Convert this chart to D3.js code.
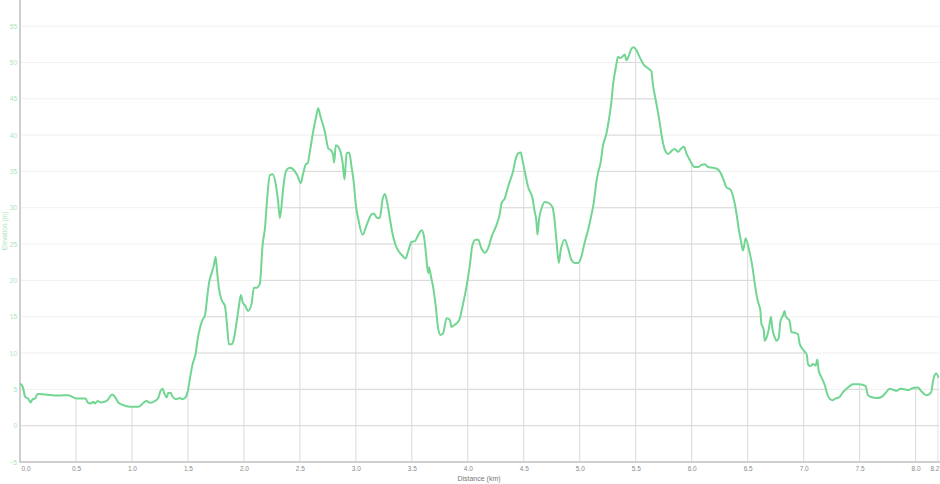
<!DOCTYPE html>
<html>
<head>
<meta charset="utf-8">
<script src="https://cdn.jsdelivr.net/npm/d3@7"></script>
<style>
  html, body { margin: 0; padding: 0; background: #fff; }
  svg { display: block; }
  text { font-family: "Liberation Sans", Arial, sans-serif; }
</style>
</head>
<body>
<svg id="chart" width="940" height="484"></svg>
<script>
// Distance (km) of each profile sample
const distance = [
  0.000, 0.009, 0.029, 0.045, 0.074, 0.096, 0.110, 0.134, 0.158, 0.223, 0.342, 0.431, 0.506, 0.587, 0.604, 0.634,
  0.654, 0.670, 0.694, 0.723, 0.774, 0.824, 0.848, 0.878, 0.938, 0.982, 1.056, 1.131, 1.161, 1.205, 1.235, 1.256,
  1.274, 1.288, 1.310, 1.324, 1.346, 1.360, 1.393, 1.429, 1.449, 1.473, 1.497, 1.518, 1.542, 1.569, 1.587, 1.607,
  1.628, 1.652, 1.676, 1.690, 1.712, 1.732, 1.747, 1.762, 1.777, 1.801, 1.830, 1.848, 1.866, 1.890, 1.911, 1.935,
  1.955, 1.973, 1.991, 2.009, 2.038, 2.069, 2.089, 2.113, 2.143, 2.167, 2.188, 2.208, 2.232, 2.256, 2.286, 2.306,
  2.321, 2.337, 2.351, 2.381, 2.411, 2.446, 2.476, 2.509, 2.529, 2.554, 2.569, 2.589, 2.619, 2.649, 2.663, 2.685,
  2.723, 2.753, 2.777, 2.797, 2.806, 2.821, 2.842, 2.863, 2.881, 2.899, 2.917, 2.940, 2.962, 2.982, 3.000, 3.021,
  3.060, 3.096, 3.140, 3.161, 3.190, 3.214, 3.238, 3.259, 3.279, 3.304, 3.324, 3.354, 3.387, 3.417, 3.444, 3.467,
  3.497, 3.527, 3.556, 3.587, 3.607, 3.625, 3.646, 3.654, 3.670, 3.690, 3.714, 3.735, 3.756, 3.779, 3.810, 3.839,
  3.854, 3.884, 3.922, 3.958, 3.988, 4.018, 4.042, 4.071, 4.092, 4.122, 4.152, 4.181, 4.212, 4.256, 4.286, 4.301,
  4.330, 4.351, 4.360, 4.375, 4.404, 4.429, 4.449, 4.473, 4.488, 4.509, 4.538, 4.578, 4.598, 4.613, 4.622, 4.637,
  4.658, 4.688, 4.717, 4.756, 4.771, 4.792, 4.813, 4.830, 4.866, 4.896, 4.926, 4.955, 4.985, 5.015, 5.045, 5.074,
  5.104, 5.125, 5.149, 5.163, 5.185, 5.208, 5.238, 5.262, 5.283, 5.297, 5.321, 5.342, 5.357, 5.381, 5.402, 5.417,
  5.440, 5.462, 5.482, 5.506, 5.536, 5.571, 5.610, 5.640, 5.654, 5.679, 5.708, 5.729, 5.744, 5.768, 5.788, 5.819,
  5.848, 5.878, 5.908, 5.931, 5.953, 5.982, 6.027, 6.056, 6.087, 6.116, 6.146, 6.190, 6.220, 6.250, 6.286, 6.310,
  6.346, 6.384, 6.404, 6.422, 6.438, 6.458, 6.482, 6.512, 6.542, 6.563, 6.583, 6.601, 6.613, 6.622, 6.643, 6.652,
  6.672, 6.690, 6.708, 6.720, 6.741, 6.756, 6.777, 6.792, 6.815, 6.830, 6.839, 6.875, 6.890, 6.920, 6.949, 6.964,
  6.979, 7.009, 7.029, 7.038, 7.060, 7.083, 7.107, 7.122, 7.134, 7.158, 7.188, 7.217, 7.256, 7.286, 7.321, 7.346,
  7.396, 7.440, 7.500, 7.554, 7.574, 7.604, 7.649, 7.694, 7.732, 7.768, 7.804, 7.833, 7.863, 7.902, 7.940, 7.962,
  8.006, 8.020, 8.051, 8.096, 8.119, 8.140, 8.154, 8.170, 8.185, 8.205
];
// Elevation (m) at each sample
const elevation = [
  5.8, 5.7, 5.1, 4.0, 3.7, 3.2, 3.6, 3.75, 4.35, 4.3, 4.15, 4.2, 3.75, 3.75, 3.2, 3.05,
  3.3, 3.05, 3.4, 3.2, 3.4, 4.3, 3.95, 3.2, 2.75, 2.6, 2.6, 3.4, 3.15, 3.4, 3.8, 4.8,
  5.1, 4.5, 3.9, 4.5, 4.55, 4.05, 3.65, 3.8, 3.65, 3.8, 4.65, 6.5, 8.5, 9.9, 11.9, 13.4,
  14.5, 15.2, 18.2, 19.8, 21.0, 22.1, 23.25, 21.0, 18.9, 17.3, 16.5, 14.1, 11.2, 11.2, 12.0, 14.3,
  16.4, 18.0, 16.9, 16.6, 15.8, 16.8, 19.0, 19.0, 19.6, 24.9, 27.2, 31.3, 34.5, 34.6, 33.1, 30.8,
  28.6, 30.4, 32.7, 35.2, 35.5, 35.2, 34.5, 33.4, 34.7, 36.0, 36.1, 37.7, 40.5, 42.8, 43.7, 42.5,
  40.5, 38.2, 37.9, 37.3, 36.2, 38.6, 38.4, 37.7, 36.3, 33.9, 37.5, 37.6, 35.6, 33.4, 30.4, 28.5,
  26.3, 27.6, 29.1, 29.2, 28.6, 28.6, 31.1, 31.9, 30.8, 28.5, 26.7, 24.9, 23.9, 23.4, 23.0, 24.0,
  25.3, 25.4, 26.2, 26.9, 26.2, 23.9, 21.0, 21.8, 20.6, 19.1, 16.4, 13.4, 12.5, 12.7, 14.8, 14.6,
  13.6, 13.9, 14.5, 16.8, 19.1, 22.1, 24.9, 25.6, 25.6, 24.4, 23.8, 24.4, 26.0, 27.6, 29.2, 30.6,
  31.3, 32.4, 32.9, 33.6, 35.0, 36.8, 37.5, 37.6, 36.6, 35.0, 32.9, 31.3, 29.4, 28.1, 26.3, 28.5,
  29.9, 30.8, 30.7, 30.1, 28.8, 25.5, 22.4, 24.2, 25.6, 24.4, 22.8, 22.4, 22.4, 23.3, 25.3, 26.9,
  29.0, 30.7, 33.6, 34.8, 36.1, 38.6, 40.2, 42.3, 44.6, 46.9, 49.2, 50.8, 50.6, 50.8, 51.1, 50.3,
  51.0, 51.9, 52.1, 51.7, 50.7, 49.7, 49.2, 48.8, 46.9, 44.8, 42.3, 40.2, 38.9, 37.7, 37.4, 37.8,
  38.1, 37.7, 38.2, 38.4, 37.5, 36.6, 35.6, 35.6, 35.9, 36.0, 35.6, 35.5, 35.4, 35.0, 33.8, 32.8,
  32.5, 30.6, 28.8, 26.9, 25.6, 24.1, 25.8, 24.2, 21.9, 19.6, 17.7, 16.6, 15.9, 14.1, 13.2, 11.7,
  12.3, 13.4, 15.0, 13.4, 12.2, 11.7, 12.1, 14.3, 15.2, 15.8, 15.1, 14.4, 12.9, 12.8, 12.6, 11.3,
  10.8, 10.2, 9.7, 8.5, 8.2, 8.5, 8.3, 9.1, 7.6, 6.7, 5.6, 4.1, 3.5, 3.75, 3.95, 4.5,
  5.25, 5.7, 5.7, 5.45, 4.2, 3.95, 3.8, 3.95, 4.5, 5.1, 4.9, 4.8, 5.1, 5.0, 4.9, 5.1,
  5.25, 5.25, 4.75, 4.2, 4.3, 4.65, 6.0, 6.95, 7.2, 6.6
];
const xTickValues = [0, 0.5, 1, 1.5, 2, 2.5, 3, 3.5, 4, 4.5, 5, 5.5, 6, 6.5, 7, 7.5, 8, 8.2];
const yTickValues = [-5, 0, 5, 10, 15, 20, 25, 30, 35, 40, 45, 50, 55];
const xTitle = "Distance (km)";
const yTitle = "Elevation (m)";

(function () {
const data = distance.map((d, i) => ({ d, e: elevation[i] }));

const svg = d3.select("#chart");
const padL = 20, padR = 938, padT = 0, padB = 462;

const x = d3.scaleLinear().domain([0, 8.2]).range([padL, padR]);
const y = d3.scaleLinear().domain([-5, 58.6]).range([padB, padT]);

// faint horizontal grid everywhere
svg.append("g")
  .selectAll("line").data(yTickValues.filter(v => v > -5)).join("line")
  .attr("x1", padL).attr("x2", 940)
  .attr("y1", v => y(v)).attr("y2", v => y(v))
  .attr("stroke", "#f1f1f1").attr("stroke-width", 1);

// clip = region under the profile
const areaGen = d3.area().x(p => x(p.d)).y0(padB).y1(p => y(p.e));
svg.append("defs").append("clipPath").attr("id", "under")
  .append("path").attr("d", areaGen(data));

const under = svg.append("g").attr("clip-path", "url(#under)");
under.selectAll("line.h").data(yTickValues.filter(v => v > -5)).join("line")
  .attr("class", "h")
  .attr("x1", padL).attr("x2", 940)
  .attr("y1", v => y(v)).attr("y2", v => y(v))
  .attr("stroke", "#d9d9d9").attr("stroke-width", 1);
under.selectAll("line.v").data(xTickValues.filter(v => v > 0)).join("line")
  .attr("class", "v")
  .attr("x1", v => x(v)).attr("x2", v => x(v))
  .attr("y1", padT).attr("y2", padB)
  .attr("stroke", "#d9d9d9").attr("stroke-width", 1);

// axes
const xAxis = d3.axisBottom(x).tickValues(xTickValues).tickSize(0).tickPadding(4)
  .tickFormat(d3.format(".1f"));
const gx = svg.append("g").attr("transform", `translate(0,${padB})`).call(xAxis);
gx.select(".domain").attr("stroke", "#cfcfcf").attr("stroke-width", 2)
  .attr("d", `M${padL},0H940`);
gx.selectAll("text").attr("fill", "#8a8a8a").attr("font-size", "6.5px")
  .attr("font-family", "'Liberation Sans', Arial, sans-serif");
gx.selectAll(".tick").filter(d => d === 0).select("text").attr("text-anchor", "start").attr("x", 1);
gx.selectAll(".tick").filter(d => d === 8.2).select("text").attr("text-anchor", "end").attr("x", 1);

const yAxis = d3.axisLeft(y).tickValues(yTickValues).tickSize(0).tickPadding(3);
const gy = svg.append("g").attr("transform", `translate(${padL},0)`).call(yAxis);
gy.select(".domain").attr("stroke", "#cfcfcf").attr("stroke-width", 2)
  .attr("d", `M0,${padT}V${padB + 1}`);
gy.selectAll("text").attr("fill", "#a9e4bc").attr("font-size", "6.5px")
  .attr("font-family", "'Liberation Sans', Arial, sans-serif");

// titles
svg.append("text").attr("x", (padL + padR) / 2).attr("y", 481)
  .attr("text-anchor", "middle").attr("font-size", "7px").attr("fill", "#777")
  .text(xTitle);
svg.append("text").attr("transform", `translate(7,${(padT + padB) / 2}) rotate(-90)`)
  .attr("text-anchor", "middle").attr("font-size", "6.5px").attr("fill", "#a9e4bc")
  .text(yTitle);

// profile line
const lineGen = d3.line().x(p => x(p.d)).y(p => y(p.e)).curve(d3.curveMonotoneX);
svg.append("path").datum(data)
  .attr("d", lineGen)
  .attr("fill", "none")
  .attr("stroke", "#72d692")
  .attr("stroke-width", 2)
  .attr("stroke-linejoin", "round");
})();
</script>
</body>
</html>
